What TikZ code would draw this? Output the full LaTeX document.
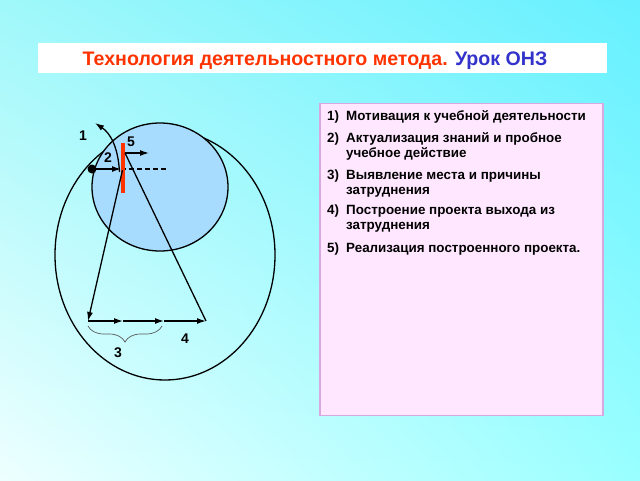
\documentclass[tikz,border=0pt]{standalone}
\usepackage{fontspec}
\setmainfont{Liberation Sans}
\usetikzlibrary{arrows.meta,decorations.pathreplacing,shadings}
\definecolor{bgtl}{HTML}{A0F8FA}
\definecolor{bgtr}{HTML}{66F0FF}
\definecolor{bgbl}{HTML}{EEFFFF}
\definecolor{bgbr}{HTML}{99FFFF}
\definecolor{ttlred}{HTML}{FF3300}
\definecolor{ttlblue}{HTML}{3333CC}
\definecolor{discfill}{HTML}{A8DCFF}
\definecolor{barred}{HTML}{FF3300}
\definecolor{boxfill}{HTML}{FFE8FF}
\definecolor{boxline}{HTML}{D8A8E0}
\tikzset{
  ln/.style={line width=1.3pt,black},
  arr/.style={ln,-{Latex[length=9pt,width=6pt]}},
  lbl/.style={font=\bfseries\fontsize{14}{16}\selectfont,inner sep=0pt},
  item/.style={font=\bfseries\fontsize{13.4}{15}\selectfont,inner sep=0pt,anchor=base west},
}
\begin{document}
\begin{tikzpicture}[x=1pt,y=-1pt]
\useasboundingbox (0,0) rectangle (640,480);
\shade[upper left=bgtl,upper right=bgtr,lower left=bgbl,lower right=bgbr] (0,0) rectangle (640,480);
% title
\node[fill=white,minimum width=569pt,minimum height=30pt,inner sep=0pt] (titlebox) at (322.5,58) {};
\node[font=\bfseries\fontsize{19.6}{22}\selectfont,inner sep=0pt,anchor=base] (title) at (315,65)
  {\textcolor{ttlred}{Технология деятельностного метода.} \textcolor{ttlblue}{Урок ОНЗ}};
% list box
\node[draw=boxline,line width=1.2pt,fill=boxfill,minimum width=283pt,minimum height=312pt,inner sep=0pt] (listbox) at (461.5,259.5) {};
\node[item] (n1) at (327,120.5) {1)};
\node[item] (t1) at (346,120.5) {Мотивация к учебной деятельности};
\node[item] (n2) at (327,142.5) {2)};
\node[item] (t2a) at (346,142.5) {Актуализация знаний и пробное};
\node[item] (t2b) at (346,157.5) {учебное действие};
\node[item] (n3) at (327,179.5) {3)};
\node[item] (t3a) at (346,179.5) {Выявление места и причины};
\node[item] (t3b) at (346,194.5) {затруднения};
\node[item] (n4) at (327,214.5) {4)};
\node[item] (t4a) at (346,214.5) {Построение проекта выхода из};
\node[item] (t4b) at (346,229.5) {затруднения};
\node[item] (n5) at (327,252) {5)};
\node[item] (t5) at (346,252) {Реализация построенного проекта.};
% diagram
\coordinate (ec) at (165,255);
\draw[ln] (ec) ellipse [x radius=110, y radius=125];
\coordinate (dc) at (160,187);
\draw[ln,fill=discfill] (dc) ellipse [x radius=68, y radius=64];
\coordinate (dot) at (92,169);
\coordinate (hit) at (121,169);
\coordinate (dashend) at (168,169);
\coordinate (bartop) at (123.3,143);
\coordinate (barbot) at (123.3,193);
\coordinate (startL) at (122.5,170);
\coordinate (startR) at (125,153);
\coordinate (arr5) at (149,153);
\coordinate (bl) at (88,321);
\coordinate (m1) at (123,321);
\coordinate (m2) at (164,321);
\coordinate (br) at (206,321);
\coordinate (arcS) at (119.5,172);
\coordinate (arcE) at (95,123);
\coordinate (brA) at (88,326);
\coordinate (brB) at (162,326);
\draw[ln,dashed,dash pattern=on 5pt off 3pt] (hit) -- (dashend);
\draw[arr] (dot) -- (hit);
\draw[line width=4pt,barred] (bartop) -- (barbot);
\draw[arr] (arcS) .. controls (118,146) and (110,133) .. (arcE);
\draw[arr] (startR) -- (arr5);
\draw[arr] (startL) -- (bl);
\draw[ln] (startR) -- (br);
\draw[arr] (bl) -- (m1);
\draw[arr] (m1) -- (m2);
\draw[arr] (m2) -- (br);
\fill (dot) circle (4.5);
\draw[gray!70!black,line width=0.7pt,decorate,decoration={brace,mirror,amplitude=16pt,aspect=0.5}] (brA) -- (brB);
\node[lbl] (L1) at (83,136) {1};
\node[lbl] (L2) at (108,158) {2};
\node[lbl] (L5) at (131,142) {5};
\node[lbl] (L3) at (118,353) {3};
\node[lbl] (L4) at (185,339) {4};
\end{tikzpicture}
\end{document}
